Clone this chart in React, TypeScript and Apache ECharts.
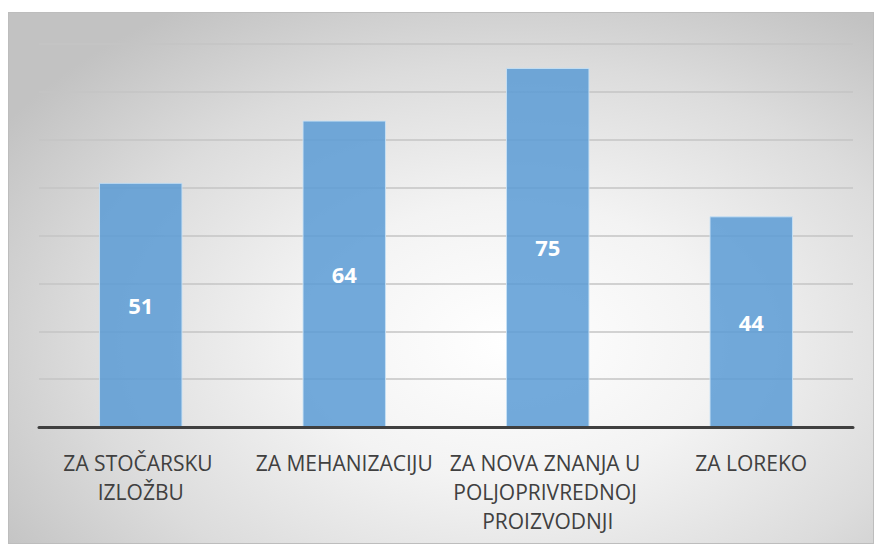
import React, { useEffect, useRef } from "react";
import * as echarts from "echarts";

const categories = ["ZA STOČARSKU IZLOŽBU", "ZA MEHANIZACIJU", "ZA NOVA ZNANJA U POLJOPRIVREDNOJ PROIZVODNJI", "ZA LOREKO"];
const values = [51, 64, 75, 44];
const yMin = 0;
const yMax = 80;
const yInterval = 10;

export default function App() {
  const ref = useRef<HTMLDivElement>(null);
  useEffect(() => {
    if (!ref.current) return;
    const chart = echarts.init(ref.current, undefined, { renderer: "svg" });
    chart.setOption({
      animation: false,
      grid: { left: 30, right: 20, top: 31, bottom: 116, containLabel: false },
      xAxis: {
        type: "category",
        data: categories,
        axisLine: { show: true, lineStyle: { color: "#404040", width: 3 } },
        axisTick: { show: false },
        axisLabel: {
          color: "#404040",
          fontFamily: "Open Sans",
          fontSize: 21,
          lineHeight: 29,
          margin: 21,
          interval: 0,
          width: 202,
          overflow: "break",
        },
        z: 10,
      },
      yAxis: {
        type: "value",
        min: yMin,
        max: yMax,
        interval: yInterval,
        axisLabel: { show: false },
        axisLine: { show: false },
        axisTick: { show: false },
        splitLine: { show: true, lineStyle: { color: "#c4c4c4", width: 1.5 } },
      },
      series: [
        {
          type: "bar",
          data: values,
          barWidth: "41%",
          itemStyle: {
            color: "rgba(91,155,213,0.85)",
            borderColor: "rgba(200,225,245,0.9)",
            borderWidth: 1,
          },
          label: {
            show: true,
            position: "inside",
            color: "#ffffff",
            fontFamily: "Open Sans",
            fontWeight: "bold",
            fontSize: 22,
          },
        },
      ],
    });
    return () => chart.dispose();
  }, []);
  return (
    <div
      style={{
        position: "absolute",
        left: 8,
        top: 12,
        width: 866,
        height: 532,
        boxSizing: "border-box",
        border: "1px solid #bdbdbd",
        background: "radial-gradient(ellipse 70% 75% at 58% 62%, #ffffff 0%, #f3f3f3 35%, #dcdcdc 70%, #c2c2c2 100%)",
      }}
    >
      <div ref={ref} style={{ width: "100%", height: "100%" }} />
    </div>
  );
}
